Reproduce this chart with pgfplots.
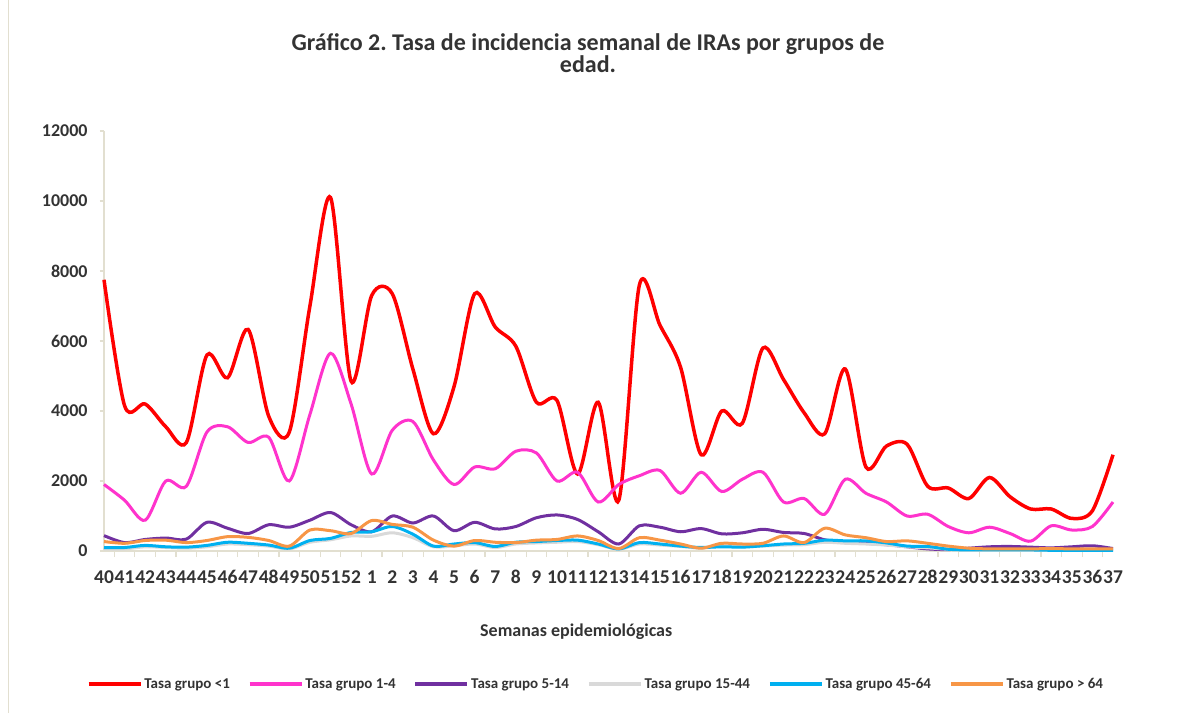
\documentclass[border=0pt]{standalone}
\usepackage{pgfplots}
\usepackage{pgfplotstable}
\pgfplotsset{compat=1.18}
\usepackage{fontspec}
\setmainfont{Carlito}
\frenchspacing
\definecolor{cRed}{HTML}{FF0000}
\definecolor{cMag}{HTML}{FF33CC}
\definecolor{cPur}{HTML}{7030A0}
\definecolor{cGry}{HTML}{D9D9D9}
\definecolor{cBlu}{HTML}{00B0F0}
\definecolor{cOra}{HTML}{F79646}
\definecolor{cAx}{RGB}{226,223,208}
\pgfplotstableread{
i  r     m     p     g    b    o
0  7750  1900  440   60   100  270
1  4150  1450  240   60   100  220
2  4200  880   330   120  160  300
3  3550  2000  370   100  120  310
4  3100  1850  340   80   110  240
5  5600  3400  820   120  160  300
6  4950  3550  650   200  250  410
7  6330  3100  500   180  220  390
8  3850  3250  750   140  170  300
9  3400  2000  680   60   80   140
10 7000  3900  880   250  300  600
11 10100 5650  1100  320  360  580
12 4850  4200  750   430  530  500
13 7300  2200  550   420  550  870
14 7350  3450  1000  520  700  760
15 5200  3700  800   380  480  680
16 3350  2600  1000  120  140  310
17 4700  1900  580   150  200  140
18 7350  2400  820   200  240  300
19 6400  2350  630   100  130  250
20 5850  2850  700   200  250  240
21 4250  2800  950   230  270  310
22 4300  2000  1030  250  300  330
23 2200  2250  900   270  310  430
24 4250  1400  550   180  200  300
25 1450  1900  200   50   60   70
26 7600  2150  720   200  240  380
27 6450  2300  680   170  200  310
28 5250  1650  550   130  140  200
29 2750  2250  640   80   100  80
30 4000  1700  490   150  120  220
31 3650  2050  520   120  110  200
32 5800  2250  620   140  150  220
33 4900  1400  530   170  200  430
34 3950  1500  500   180  220  240
35 3350  1050  320   250  310  650
36 5200  2050  250   220  290  460
37 2400  1650  220   200  290  380
38 3000  1400  180   170  230  270
39 3050  1000  120   120  140  290
40 1850  1050  60    90   130  220
41 1800  700   40    50   50   140
42 1500  520   80    30   30   80
43 2100  680   120   30   30   60
44 1550  500   130   30   30   60
45 1200  280   110   30   30   60
46 1200  720   90    30   20   70
47 930   600   120   30   20   60
48 1150  700   150   30   20   60
49 2750  1400  70    30   20   60
}\datatable
\begin{document}
\begin{tikzpicture}
\path[use as bounding box] (0pt,0pt) rectangle (1184pt,713pt);
\draw[cAx, line width=1pt] (8pt,0pt) -- (8pt,713pt);
\begin{axis}[
  at={(104pt,162pt)}, anchor=south west,
  scale only axis, width=1009pt, height=420pt,
  xmin=0, xmax=49, ymin=0, ymax=12000,
  axis x line*=bottom, axis y line*=left,
  axis line style={cAx, line width=1.2pt},
  xtick={0,...,49},
  xticklabels={40,41,42,43,44,45,46,47,48,49,50,51,52,1,2,3,4,5,6,7,8,9,10,11,12,13,14,15,16,17,18,19,20,21,22,23,24,25,26,27,28,29,30,31,32,33,34,35,36,37},
  major x tick style={draw=none},
  minor xtick={0.5,1.5,...,48.5},
  minor x tick style={cAx, line width=1.2pt},
  minor tick length=6pt,
  tick align=outside,
  ytick={0,2000,...,12000},
  scaled y ticks=false,
  major y tick style={cAx, line width=1.2pt},
  /pgf/number format/assume math mode=true,
  /pgf/number format/1000 sep={},
  ticklabel style={font=\fontsize{18}{18}\selectfont\bfseries, text=black!80},
  yticklabel style={anchor=east, inner sep=0pt, xshift=-12pt},
  xticklabel style={anchor=north, inner sep=0pt, yshift=-15pt, font=\fontsize{19.5}{19.5}\selectfont\bfseries},
  xlabel={Semanas epidemiológicas},
  xlabel style={font=\fontsize{18}{18}\selectfont\bfseries, text=black!80, at={(rel axis cs:0.468,-0.193)}, anchor=center},
  legend columns=6,
  legend style={draw=none, fill=none, at={(rel axis cs:0.4876,-0.3167)}, anchor=center,
    font=\fontsize{15}{15}\selectfont\bfseries, text=black!80,
    /tikz/every even column/.append style={column sep=16pt}},
  legend image code/.code={\draw[#1, line width=3.5pt] (0pt,0pt) -- (52pt,0pt);},
  every axis plot/.append style={smooth, tension=0.5, line width=3pt, no markers},
  clip=false,
]
\addplot[cRed, line width=3.5pt] table[x=i, y=r] {\datatable};
\addlegendentry{Tasa grupo <1}
\addplot[cMag] table[x=i, y=m] {\datatable};
\addlegendentry{Tasa grupo 1-4}
\addplot[cPur] table[x=i, y=p] {\datatable};
\addlegendentry{Tasa grupo 5-14}
\addplot[cGry] table[x=i, y=g] {\datatable};
\addlegendentry{Tasa grupo 15-44}
\addplot[cBlu] table[x=i, y=b] {\datatable};
\addlegendentry{Tasa grupo 45-64}
\addplot[cOra] table[x=i, y=o] {\datatable};
\addlegendentry{Tasa grupo > 64}
\end{axis}
\node[font=\fontsize{24}{22}\selectfont\bfseries, text=black!80, align=center, anchor=north] at (588pt,683pt)
  {Gráfico 2. Tasa de incidencia semanal de IRAs por grupos de\\edad.};
\end{tikzpicture}
\end{document}
